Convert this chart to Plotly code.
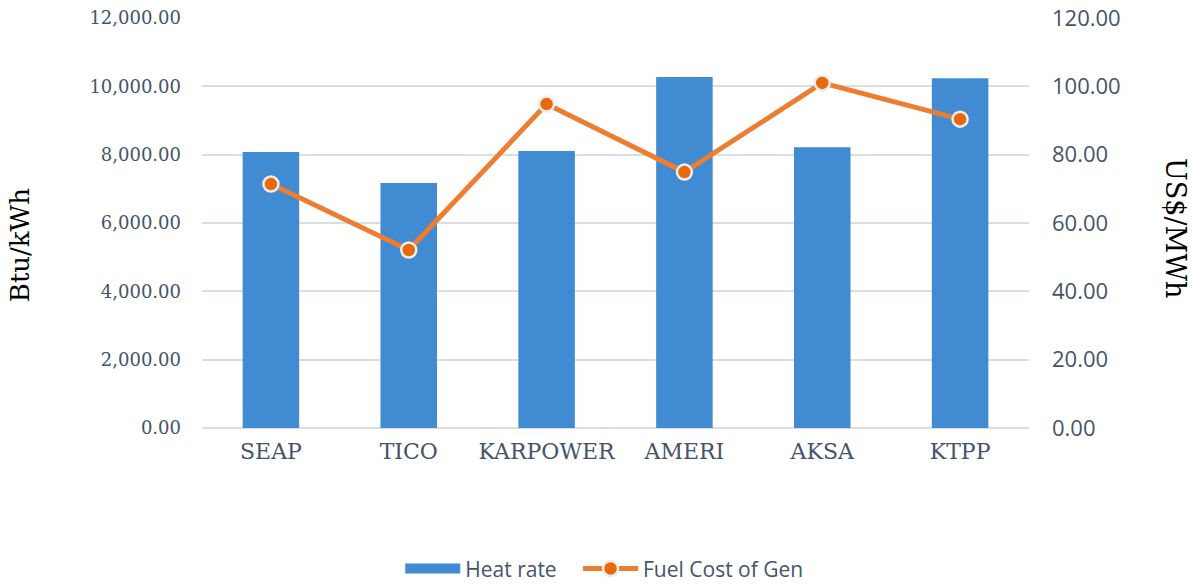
import plotly.graph_objects as go

categories = ["SEAP", "TICO", "KARPOWER", "AMERI", "AKSA", "KTPP"]
heat_rate = [8080, 7170, 8110, 10270, 8220, 10240]
fuel_cost = [71.4, 52.1, 94.8, 74.9, 101.0, 90.4]
left_ticks = [0, 2000, 4000, 6000, 8000, 10000, 12000]
right_ticks = [0, 20, 40, 60, 80, 100, 120]

SERIF = "DejaVu Serif"
SANS = "Open Sans"
SLATE = "#44546A"
GRID = "#D9DEE6"
BLUE = "#408BD2"

fig = go.Figure()
fig.add_trace(go.Bar(
    x=categories, y=heat_rate, name="Heat rate",
    marker=dict(color=BLUE, line=dict(width=0)),
    width=0.41, yaxis="y", showlegend=False,
))
# legend-only entry drawing the wide bar swatch
fig.add_trace(go.Scatter(
    x=[None], y=[None], name="Heat rate\u00a0\u00a0\u00a0", mode="lines",
    line=dict(color=BLUE, width=14), yaxis="y", hoverinfo="skip",
))
fig.add_trace(go.Scatter(
    x=categories, y=fuel_cost, name="Fuel Cost of Gen",
    mode="lines+markers", yaxis="y2",
    line=dict(color="#ED7D31", width=5),
    marker=dict(color="#E8690C", size=15, line=dict(color="#ECECEC", width=2.5)),
))

fig.update_layout(
    width=1193, height=584,
    margin=dict(l=202, r=164, t=18, b=156, autoexpand=False),
    paper_bgcolor="white", plot_bgcolor="white",
    showlegend=True,
    legend=dict(
        orientation="h", x=0.3355, xanchor="left", xref="container",
        y=0.026, yanchor="middle", yref="container",
        font=dict(family=SANS, size=21, color=SLATE),
        traceorder="normal", itemwidth=55,
    ),
    xaxis=dict(
        type="category", showgrid=False, showline=False, zeroline=False,
        ticks="", tickfont=dict(family=SERIF, size=22, color=SLATE),
        ticklabelstandoff=8, automargin=False,
    ),
    yaxis=dict(
        range=[0, 12000], tickvals=left_ticks, tickformat=",.2f",
        showgrid=True, gridcolor=GRID, gridwidth=2,
        zeroline=True, zerolinecolor=GRID, zerolinewidth=2,
        showline=False, ticks="",
        tickfont=dict(family=SERIF, size=18, color=SLATE),
        ticklabelstandoff=20, automargin=False,
    ),
    yaxis2=dict(
        range=[0, 120], tickvals=right_ticks, tickformat=".2f",
        overlaying="y", side="right", showgrid=False, zeroline=False,
        showline=False, ticks="",
        tickfont=dict(family=SANS, size=22, color=SLATE),
        ticklabelstandoff=22, automargin=False,
    ),
    annotations=[
        dict(text="Btu/kWh", xref="paper", yref="paper", x=-0.22, y=0.446,
             xanchor="center", yanchor="middle", textangle=-90, showarrow=False,
             font=dict(family=SERIF, size=26, color="black")),
        dict(text="US$/MWh", xref="paper", yref="paper", x=1.1765, y=0.488,
             xanchor="center", yanchor="middle", textangle=90, showarrow=False,
             font=dict(family=SERIF, size=27, color="black")),
    ],
)

fig.write_html(
    "out.html",
    config={"displayModeBar": False},
    post_script="document.body.style.margin='0';document.body.style.overflow='hidden';",
)
